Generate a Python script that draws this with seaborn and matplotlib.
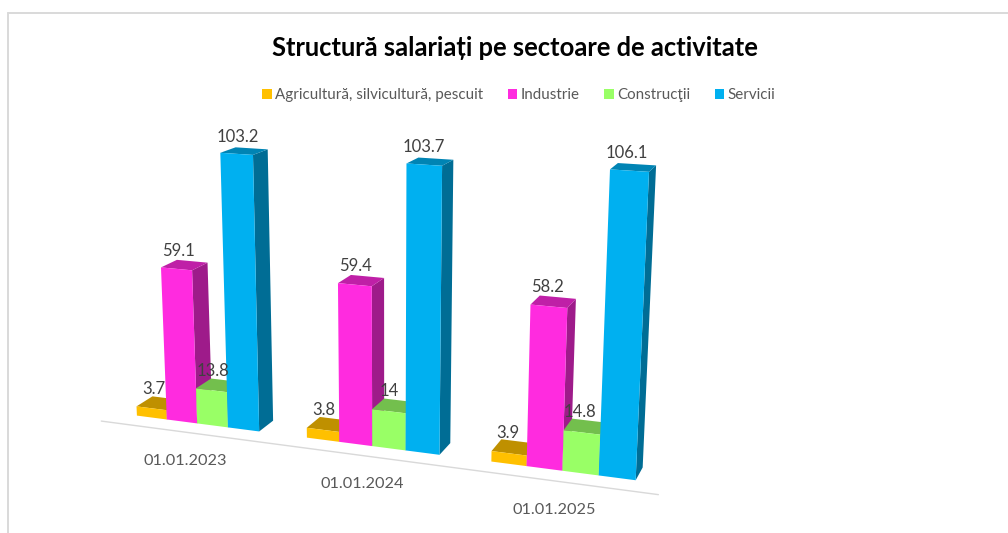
import numpy as np
import pandas as pd
import seaborn as sns
from matplotlib import pyplot as plt
from matplotlib.colors import to_rgb
from matplotlib.lines import Line2D
from matplotlib.patches import Polygon
from matplotlib.transforms import IdentityTransform, Transform

dates = ['01.01.2023', '01.01.2024', '01.01.2025']
sectors = ['Agricultură, silvicultură, pescuit', 'Industrie', 'Construcţii', 'Servicii']
agricultura = [3.7, 3.8, 3.9]
industrie = [59.1, 59.4, 58.2]
constructii = [13.8, 14, 14.8]
servicii = [103.2, 103.7, 106.1]
colors = ['#FFC000', '#FF2BDF', '#99FF66', '#00B0F0']

# view of the 3d chart: (x, value, depth) -> pixel, worked out from the picture
view = np.array([[1.60251404e+02, -1.69754009e-01, 1.91645941e+01, 1.97161911e+02],
                 [4.95350200e+00, -2.70861926e+00, -2.24307568e+00, 4.23414615e+02],
                 [-3.97482789e-02, -4.37295203e-04, 1.99366536e-02, 1.00000000e+00]])
HEIGHT = 533


class Camera(Transform):
    input_dims = 2
    output_dims = 2

    def __init__(self, z=0.0):
        super().__init__()
        self.z = z

    def transform_non_affine(self, values):
        values = np.asarray(values, dtype=float)
        pts = np.column_stack([values[:, 0], values[:, 1],
                               np.full(len(values), self.z), np.ones(len(values))])
        p = pts @ view.T
        return np.column_stack([p[:, 0] / p[:, 2], HEIGHT - p[:, 1] / p[:, 2]])


sns.set_theme(style='white')
plt.rcParams['font.family'] = ['Lato', 'DejaVu Sans']

df = pd.DataFrame({
    'date': dates * 4,
    'sector': np.repeat(sectors, 3),
    'value': agricultura + industrie + constructii + servicii,
})

fig = plt.figure(figsize=(10.08, 5.33), dpi=100)
ax = fig.add_axes([0, 0, 1, 1])
sns.barplot(data=df, x='date', y='value', hue='sector', order=dates, hue_order=sectors,
            palette=colors, width=8 / 11, saturation=1, errorbar=None, linewidth=0, ax=ax)
ax.set_xlim(0, 1)
ax.set_ylim(0, 1)
ax.set_axis_off()

front = Camera(0)
back = Camera(1)
for container, color in zip(ax.containers, colors):
    base = np.array(to_rgb(color))
    for bar in container:
        x0, x1 = bar.get_x(), bar.get_x() + bar.get_width()
        val = bar.get_height()
        order = 2 + x0 * 3
        bar.set_transform(front)
        bar.set_clip_on(False)
        bar.set_zorder(order + 0.01)
        corners = [(x1, 0), (x1, val)]
        side = np.vstack([front.transform_non_affine(corners), back.transform_non_affine(corners[::-1])])
        corners = [(x0, val), (x1, val)]
        top = np.vstack([front.transform_non_affine(corners), back.transform_non_affine(corners[::-1])])
        ax.add_patch(Polygon(side, transform=IdentityTransform(), fc=base * 0.62, lw=0, zorder=order, clip_on=False))
        ax.add_patch(Polygon(top, transform=IdentityTransform(), fc=base * 0.75, lw=0, zorder=order, clip_on=False))
        ax.annotate(f'{val:g}', ((x0 + x1) / 2, val), xycoords=Camera(0.5),
                    xytext=(-6, 14.5), textcoords='offset pixels', ha='center', va='center',
                    fontsize=12, color='#404040', zorder=20, annotation_clip=False)

ax.plot([-0.5, 2.5], [0, 0], transform=Camera(-0.8), color='#D9D9D9', lw=1, zorder=1, clip_on=False)
for i, d in enumerate(dates):
    ax.annotate(d, (i, 0), xycoords=Camera(-0.5), xytext=(-4, -32.5), textcoords='offset pixels',
                ha='center', va='center', fontsize=11.7, color='#595959', annotation_clip=False)

sns.move_legend(ax, 'center', bbox_to_anchor=(519 / 1008, 1 - 95 / 533), ncol=4, title=None,
                frameon=False, fontsize=10.9, handlelength=0.62, handleheight=0.62,
                handletextpad=0.25, columnspacing=1.6, labelcolor='#595959')
fig.text(515 / 1008, 1 - 48 / 533, 'Structură salariați pe sectoare de activitate',
         ha='center', va='center', fontsize=18.4, fontweight='bold', color='black')

fig.add_artist(Line2D([8 / 1008, 1], [1 - 13 / 533, 1 - 13 / 533], color='#D9D9D9', lw=1.4))
fig.add_artist(Line2D([8 / 1008, 8 / 1008], [0, 1 - 13 / 533], color='#D9D9D9', lw=1.4))

fig.savefig('out.png', dpi=100)
